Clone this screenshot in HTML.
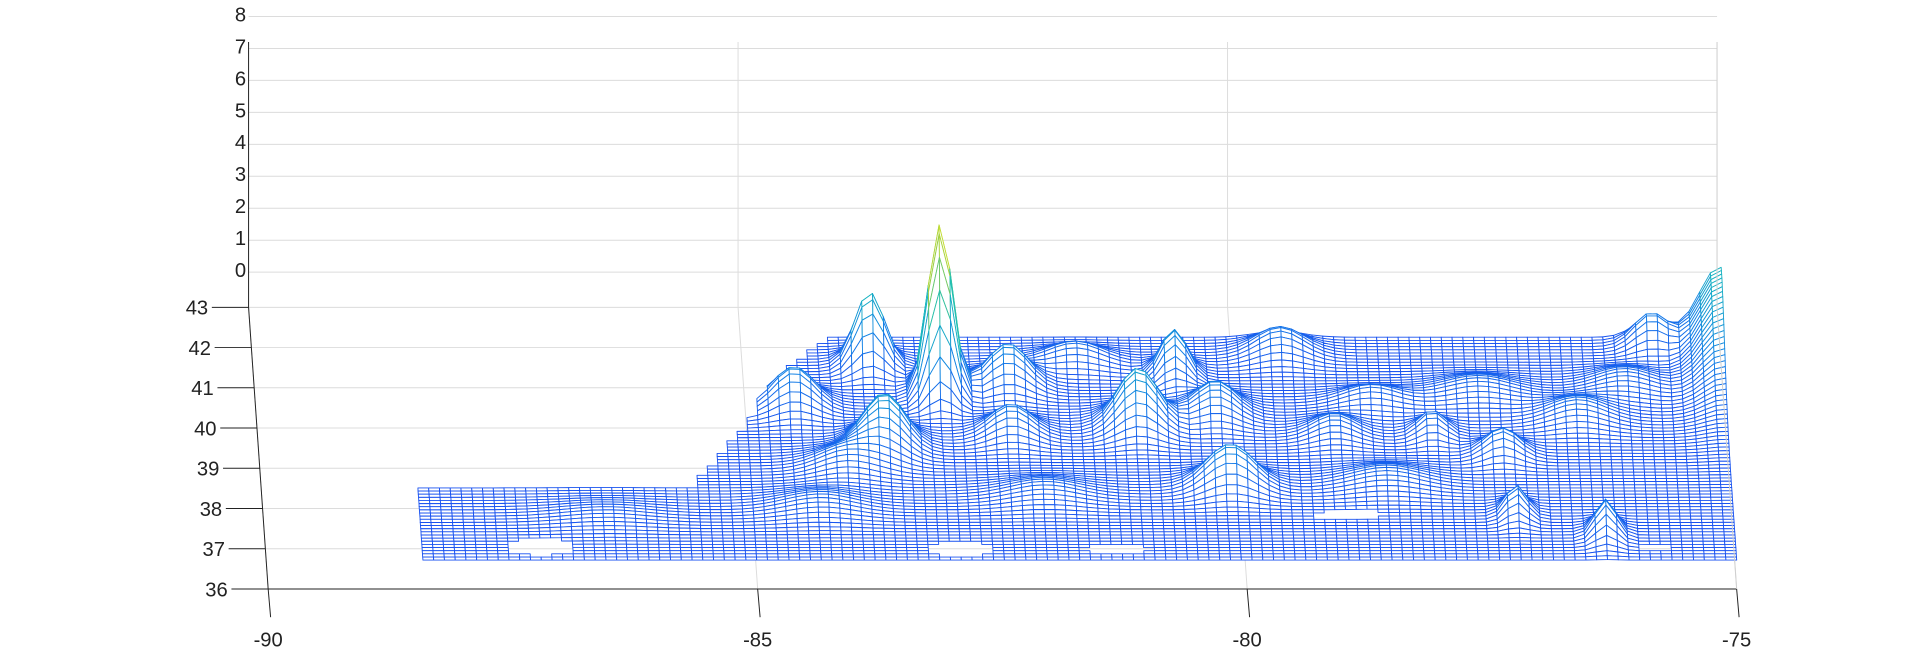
<!DOCTYPE html>
<html><head><meta charset="utf-8">
<style>
html,body{margin:0;padding:0;background:#fff;overflow:hidden;}
svg{display:block;font-family:"Liberation Sans",sans-serif;}
</style></head>
<body>
<svg id="chart" width="1920" height="661" viewBox="0 0 1920 661" xmlns="http://www.w3.org/2000/svg">
<g transform="scale(1.2245)">
<g id="grid"></g>
<g id="mesh"></g>
<g id="axes"></g>
</g>
</svg>
<script>
// ---- data ----
const lonTicks = [-90, -85, -80, -75];
const latTicks = [36, 37, 38, 39, 40, 41, 42, 43];
const zTicks = [0, 1, 2, 3, 4, 5, 6, 7, 8];
// peaks: lon, lat, height (z units above base), lon width, lat width
const peakLon = [-83.0, -83.7, -84.5, -83.6, -82.3, -81.0, -80.6, -80.2, -80.1, -79.5, -77.3, -78.0, -77.2, -76.3, -75.7, -75.0, -82.3, -79.0, -84.0, -81.6, -78.6, -77.5, -76.5, -78.5, -84.3, -86.5, -82.0, -76.0];
const peakLat = [40.8, 41.5, 40.5, 39.5, 41.0, 40.0, 41.2, 40.3, 38.5, 41.8, 39.3, 39.8, 37.8, 37.3, 42.0, 42.2, 39.8, 39.8, 39.0, 41.6, 40.6, 40.8, 40.2, 38.6, 38.0, 37.8, 38.3, 41.0];
const peakH   = [5.3, 2.3, 1.2, 1.6, 1.3, 1.8, 1.5, 1.0, 1.3, 0.8, 0.8, 0.7, 0.9, 1.1, 1.0, 2.2, 0.9, 0.6, 0.6, 0.6, 0.5, 0.5, 0.6, 0.45, 0.4, 0.2, 0.4, 0.5];
const peakSx  = [0.18, 0.22, 0.3, 0.3, 0.3, 0.3, 0.2, 0.3, 0.35, 0.35, 0.25, 0.2, 0.15, 0.15, 0.25, 0.3, 0.3, 0.3, 0.4, 0.4, 0.4, 0.5, 0.4, 0.5, 0.5, 0.6, 0.5, 0.4];
const peakSy  = [0.35, 0.3, 0.35, 0.4, 0.35, 0.4, 0.35, 0.4, 0.35, 0.35, 0.3, 0.3, 0.3, 0.3, 0.3, 1.6, 0.35, 0.35, 0.4, 0.3, 0.3, 0.4, 0.4, 0.4, 0.4, 0.4, 0.4, 0.4];
// holes in surface: lon, lat, radius lon, radius lat
const holeLon = [-87.2, -82.9, -78.9, -75.8, -81.3];
const holeLat = [37.0, 36.95, 37.8, 37.0, 36.95];
const holeRx  = [0.35, 0.35, 0.4, 0.2, 0.35];
const holeRy  = [0.22, 0.2, 0.12, 0.1, 0.12];

// ---- projection ----
const ZMIN = -1.1;
function px(lon, lat){ return 219 - (lat-36)*16/7 + (lon+90)*79.95; }
function py(lat, z){ return 481 - (lat-36)*32.86 - (z - ZMIN)*26.1; }
const NS = "http://www.w3.org/2000/svg";
function mk(tag, attrs, parent){ const e=document.createElementNS(NS,tag); for(const k in attrs) e.setAttribute(k,attrs[k]); parent.appendChild(e); return e; }

const grid = document.getElementById('grid');
const axes = document.getElementById('axes');
const mesh = document.getElementById('mesh');

zTicks.forEach(z=>{
  const y = py(43, z);
  const l = mk('line',{x1:px(-90,43),y1:y,x2:px(-75,43),y2:y,stroke:'#dcdcdc','stroke-width':0.8},grid);
  
  
});
latTicks.forEach(lat=>{
  const y = py(lat, ZMIN);
  const l = mk('line',{x1:px(-90,lat),y1:y,x2:px(-75,lat),y2:y,stroke:'#dcdcdc','stroke-width':0.8},grid);
  
  
});
lonTicks.forEach(lon=>{
  const l = mk('polyline',{points:`${px(lon,36)},${py(36,ZMIN)} ${px(lon,43)},${py(43,ZMIN)} ${px(lon,43)},${py(43,7.2)}`,fill:'none',stroke:'#dcdcdc','stroke-width':0.8},grid);
  
  
});

// ---- surface ----
function inMask(lon, lat){
  if (lon < -88.4 || lon > -75.0) return false;
  if (lat < 36.65) return false;
  let top;
  if (lon < -85.6) top = 38.45;
  else if (lon < -84.6) top = 38.45 + (lon+85.6)*2.6;
  else top = 41.3 + Math.min(1, (lon+84.6)/0.5)*0.9;
  if (lat > top) return false;
  for (let i=0;i<holeLon.length;i++){
    const dx=(lon-holeLon[i])/holeRx[i], dy=(lat-holeLat[i])/holeRy[i];
    if (dx*dx+dy*dy<1) return false;
  }
  return true;
}
function height(lon, lat){
  let h = 0.05;
  for (let i=0;i<peakLon.length;i++){
    const dx=(lon-peakLon[i])/peakSx[i], dy=(lat-peakLat[i])/peakSy[i];
    h += peakH[i]*Math.exp(-(dx*dx+dy*dy));
  }
  return ZMIN + h;
}
function color(z){
  const t = Math.max(0, Math.min(1, (z-ZMIN)/5.3));
  const stops = [[0,[25,80,240]],[0.2,[20,130,230]],[0.45,[25,190,185]],[0.75,[150,205,70]],[1,[250,240,30]]];
  for (let i=1;i<stops.length;i++){
    if (t<=stops[i][0]){
      const a=stops[i-1], b=stops[i], f=(t-a[0])/(b[0]-a[0]);
      const c=a[1].map((v,k)=>Math.round(v+(b[1][k]-v)*f));
      return `rgb(${c[0]},${c[1]},${c[2]})`;
    }
  }
  return 'rgb(250,240,30)';
}
const dLon = 0.11, dLat = 0.078;
const nLon = Math.round(13.4/dLon), nLat = Math.round((42.25-36.6)/dLat);
for (let j=nLat-1;j>=0;j--){
  const la0 = 36.6 + j*dLat, la1 = la0 + dLat;
  for (let i=0;i<nLon;i++){
    const lo0 = -88.4 + i*dLon, lo1 = lo0 + dLon;
    const lm = (lo0+lo1)/2, am = (la0+la1)/2;
    if (!inMask(lm, am)) continue;
    const z00=height(lo0,la0), z10=height(lo1,la0), z11=height(lo1,la1), z01=height(lo0,la1);
    const pts = `${px(lo0,la0).toFixed(1)},${py(la0,z00).toFixed(1)} ${px(lo1,la0).toFixed(1)},${py(la0,z10).toFixed(1)} ${px(lo1,la1).toFixed(1)},${py(la1,z11).toFixed(1)} ${px(lo0,la1).toFixed(1)},${py(la1,z01).toFixed(1)}`;
    const p = mk('polygon',{points:pts,fill:'#fff',stroke:color((z00+z10+z11+z01)/4),'stroke-width':0.75,'stroke-linejoin':'round'},mesh);
    
    
  }
}

// ---- axes ----
function axLine(x1,y1,x2,y2,name,col){
  const l = mk('line',{x1,y1,x2,y2,stroke:col||'#222','stroke-width':0.8},axes);
  
  
}
axLine(px(-90,36),py(36,ZMIN),px(-75,36),py(36,ZMIN),'x-axis-line');
axLine(px(-90,36),py(36,ZMIN),px(-90,43),py(43,ZMIN),'y-axis-line');
axLine(px(-90,43),py(43,ZMIN),px(-90,43),py(43,7.2),'z-axis-line');
axLine(px(-75,36),py(36,ZMIN),px(-75,43),py(43,ZMIN),'right-floor-edge','#cfcfcf');
axLine(px(-75,43),py(43,ZMIN),px(-75,43),py(43,7.2),'right-back-edge','#cfcfcf');

lonTicks.forEach(lon=>{
  const x = px(lon,36), y = py(36,ZMIN);
  axLine(x,y,x+2,y+23,'x-tick');
  const t = mk('text',{x:x,y:y+47,'text-anchor':'middle','font-size':16.5,fill:'#222'},axes);
  t.textContent = lon;
  
  
});
latTicks.forEach(lat=>{
  const x = px(-90,lat), y = py(lat,ZMIN);
  axLine(x-30,y,x,y,'y-tick');
  const t = mk('text',{x:x-33,y:y+6,'text-anchor':'end','font-size':16.5,fill:'#222'},axes);
  t.textContent = lat;
  
  
});
zTicks.forEach(z=>{
  const x = px(-90,43), y = py(43,z);
  const t = mk('text',{x:x-2,y:y+4,'text-anchor':'end','font-size':16.5,fill:'#222'},axes);
  t.textContent = z;
  
  
});
</script>
</body></html>
